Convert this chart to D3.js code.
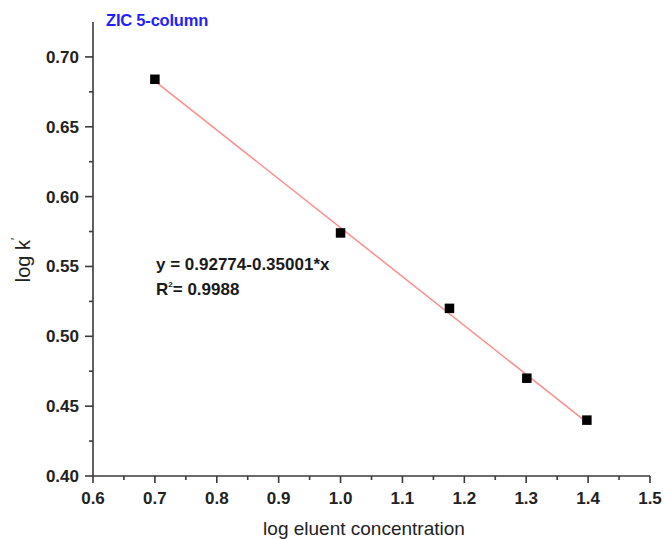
<!DOCTYPE html>
<html>
<head>
<meta charset="utf-8">
<script src="https://cdn.jsdelivr.net/npm/d3@7"></script>
<style>
  html, body { margin: 0; padding: 0; background: #fff; }
  svg { display: block; }
</style>
</head>
<body>
<svg id="chart" width="664" height="539"></svg>
<script>
const logConc = [0.7, 1.0, 1.176, 1.301, 1.398];
const logK = [0.684, 0.574, 0.520, 0.470, 0.440];
const fitIntercept = 0.92774;
const fitSlope = -0.35001;
const xTicks = [0.6, 0.7, 0.8, 0.9, 1.0, 1.1, 1.2, 1.3, 1.4, 1.5];
const yTicks = [0.40, 0.45, 0.50, 0.55, 0.60, 0.65, 0.70];
const titleText = "ZIC 5-column";
const eqText = "y = 0.92774-0.35001*x";
const r2Value = "= 0.9988";

const svg = d3.select("#chart");
const font = "Liberation Sans, Arial, sans-serif";
const axisColor = "#3a3a3a";

const x = d3.scaleLinear().domain([0.6, 1.5]).range([93, 650]);
const y = d3.scaleLinear().domain([0.40, 0.725]).range([476, 22]);

const xMinor = d3.range(0.65, 1.5, 0.1);
const yMinor = d3.range(0.425, 0.72, 0.05);

const gx = svg.append("g").attr("transform", `translate(0,${y(0.40)})`);
gx.append("line").attr("x1", x(0.6)).attr("x2", x(1.5)).attr("stroke", axisColor).attr("stroke-width", 1.6);
gx.selectAll(".maj").data(xTicks).join("line")
  .attr("x1", d => x(d)).attr("x2", d => x(d)).attr("y1", 0).attr("y2", 7)
  .attr("stroke", axisColor).attr("stroke-width", 1.6);
gx.selectAll(".min").data(xMinor).join("line")
  .attr("x1", d => x(d)).attr("x2", d => x(d)).attr("y1", 0).attr("y2", 4)
  .attr("stroke", axisColor).attr("stroke-width", 1.6);
gx.selectAll("text").data(xTicks).join("text")
  .attr("x", d => x(d)).attr("y", 28)
  .attr("text-anchor", "middle")
  .attr("font-family", font).attr("font-weight", "bold").attr("font-size", 17)
  .attr("fill", "#222")
  .text(d => d.toFixed(1));

const gy = svg.append("g").attr("transform", `translate(${x(0.6)},0)`);
gy.append("line").attr("y1", y(0.40)).attr("y2", y(0.725)).attr("stroke", axisColor).attr("stroke-width", 1.6);
gy.selectAll(".maj").data(yTicks).join("line")
  .attr("y1", d => y(d)).attr("y2", d => y(d)).attr("x1", 0).attr("x2", -8)
  .attr("stroke", axisColor).attr("stroke-width", 1.6);
gy.selectAll(".min").data(yMinor).join("line")
  .attr("y1", d => y(d)).attr("y2", d => y(d)).attr("x1", 0).attr("x2", -4)
  .attr("stroke", axisColor).attr("stroke-width", 1.6);
gy.selectAll("text").data(yTicks).join("text")
  .attr("x", -14).attr("y", d => y(d) + 6)
  .attr("text-anchor", "end")
  .attr("font-family", font).attr("font-weight", "bold").attr("font-size", 17)
  .attr("fill", "#222")
  .text(d => d.toFixed(2));

const x0 = d3.min(logConc), x1 = d3.max(logConc);
svg.append("line")
  .attr("x1", x(x0)).attr("y1", y(fitIntercept + fitSlope * x0))
  .attr("x2", x(x1)).attr("y2", y(fitIntercept + fitSlope * x1))
  .attr("stroke", "#ff8c8c").attr("stroke-width", 1.5);

const s = 9.5;
svg.selectAll(".pt").data(logConc.map((d, i) => [d, logK[i]])).join("rect")
  .attr("x", d => x(d[0]) - s / 2).attr("y", d => y(d[1]) - s / 2)
  .attr("width", s).attr("height", s)
  .attr("fill", "#000");

svg.append("text").attr("x", 106).attr("y", 26)
  .attr("font-family", font).attr("font-weight", "bold").attr("font-size", 16.5)
  .attr("fill", "#1f1fff").attr("letter-spacing", -0.2)
  .text(titleText);

svg.append("text").attr("x", 156).attr("y", 270)
  .attr("font-family", font).attr("font-weight", "bold").attr("font-size", 17)
  .attr("fill", "#1a1a1a").text(eqText);
const r2 = svg.append("text").attr("x", 156).attr("y", 295)
  .attr("font-family", font).attr("font-weight", "bold").attr("font-size", 17)
  .attr("fill", "#1a1a1a");
r2.append("tspan").text("R");
r2.append("tspan").attr("font-size", 8).attr("dy", -8).text("2");
r2.append("tspan").attr("dy", 8).text(r2Value);

svg.append("text").attr("x", 364).attr("y", 535)
  .attr("text-anchor", "middle")
  .attr("font-family", font).attr("font-size", 19).attr("fill", "#222")
  .text("log eluent concentration");

const yl = svg.append("text")
  .attr("transform", "translate(30,260) rotate(-90)")
  .attr("text-anchor", "middle")
  .attr("font-family", font).attr("font-size", 20).attr("fill", "#222");
yl.append("tspan").text("log k");
yl.append("tspan").attr("font-size", 12).attr("dy", -10).text("\u2032");
</script>
</body>
</html>
